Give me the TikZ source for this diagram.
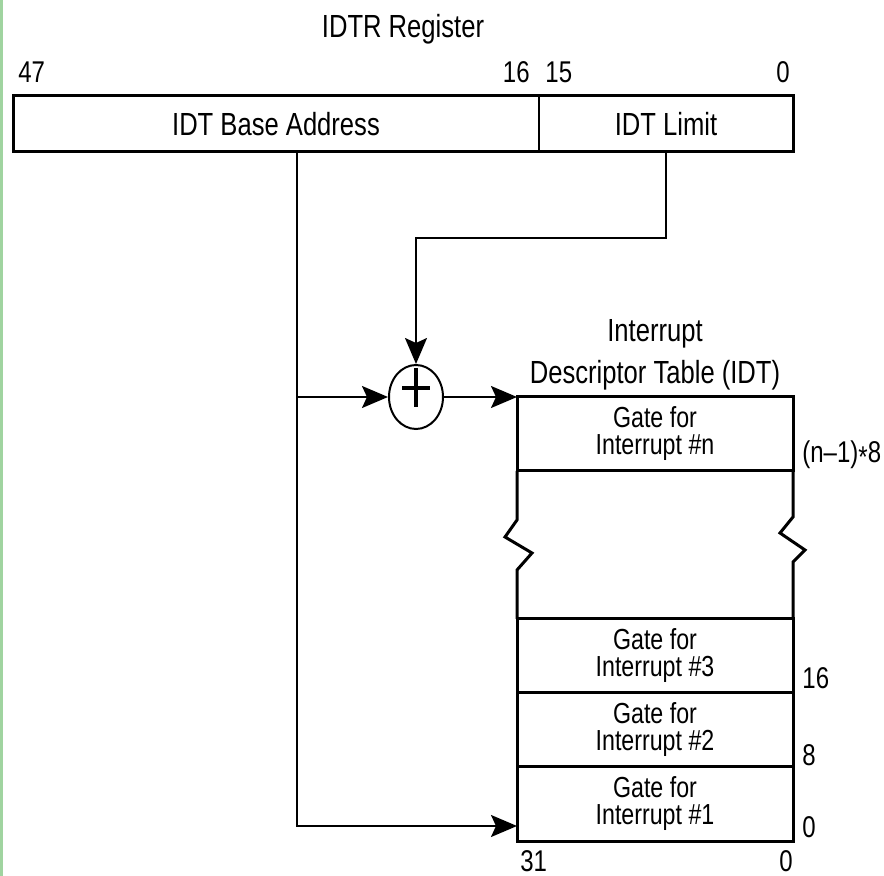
\documentclass[tikz,border=0pt]{standalone}
\usepackage{fontspec}
\setmainfont{Liberation Sans}[FakeStretch=0.8]
\usepackage{tikz}
\usetikzlibrary{positioning, shapes.geometric, arrows.meta, calc}
\definecolor{edgegreen}{RGB}{160,212,160}

\begin{document}
\begin{tikzpicture}[x=0.5pt, y=-0.5pt, >={Stealth[length=13pt, width=11pt, inset=2.5pt]},
        field/.style={draw, line width=0.75pt, minimum height=28pt, outer sep=0pt, font=\fontsize{16}{18}\selectfont},
        gatebox/.style={draw, line width=1.5pt, minimum width=138pt, minimum height=37pt, outer sep=0pt, align=center, font=\fontsize{14.5}{13.5}\selectfont},
        adder/.style={ellipse, draw, line width=1pt, minimum width=27pt, minimum height=32pt, inner sep=0pt},
        bitno/.style={inner sep=0pt, font=\fontsize{15}{16}\selectfont},
        heading/.style={inner sep=0pt, align=center, font=\fontsize{16}{21}\selectfont},
        wire/.style={line width=0.95pt}]
        \useasboundingbox (0,0) rectangle (884,876);
        \fill[edgegreen] (0,0) rectangle (2.5,876);

        \node[field, minimum width=263pt] (base) at (276,124) {IDT Base Address};
        \node[field, minimum width=127pt] (limit) [right=0pt of base] {IDT Limit};
        \draw[line width=1.5pt] (base.north west) rectangle (limit.south east);
        \node[heading, above=25.5pt] (regname) at ($(base.north west)!0.5!(limit.north east)$) {IDTR Register};

        \node[bitno, anchor=south west] (b47) at ($(base.north west)+(5,-13)$) {47};
        \node[bitno, anchor=south east] (b16) at ($(base.north east)+(-9,-13)$) {16};
        \node[bitno, anchor=south west] (b15) at ($(limit.north west)+(6,-13)$) {15};
        \node[bitno, anchor=south east] (b0) at ($(limit.north east)+(-3,-13)$) {0};

        \node[gatebox] (gate1) at (655,804) {Gate for\\Interrupt \#1};
        \node[gatebox] (gate2) [above=0pt of gate1] {Gate for\\Interrupt \#2};
        \node[gatebox] (gate3) [above=0pt of gate2] {Gate for\\Interrupt \#3};
        \node[gatebox] (gaten) [above=74pt of gate3] {Gate for\\Interrupt \#n};
        \node[heading] (idtname) [above=3pt of gaten] {Interrupt\\Descriptor Table (IDT)};

        \draw[line width=1.5pt] (gaten.south west) -- ++(0,49) -- ++(-12,17) -- ++(27,16) -- ++(-15,17) -- (gate3.north west);
        \draw[line width=1.5pt] (gaten.south east) -- ++(0,46) -- ++(-13,16) -- ++(25,17) -- ++(-12,12) -- (gate3.north east);

        \node[bitno, anchor=west] (offn) at ($(gaten.south east)+(9,-16)$) {(n–1)\raisebox{-0.3ex}{*}8};
        \node[bitno, anchor=west] (off3) at ($(gate3.south east)+(9,-15)$) {16};
        \node[bitno, anchor=west] (off2) at ($(gate2.south east)+(9,-12)$) {8};
        \node[bitno, anchor=west] (off1) at ($(gate1.south east)+(9,-14)$) {0};
        \node[bitno, anchor=north west] (b31) at ($(gate1.south west)+(3,9)$) {31};
        \node[bitno, anchor=north east] (b00) at ($(gate1.south east)+(0,9)$) {0};

        \node[adder] (sum) at (416,397) {};
        \draw[line width=2pt] ($(sum.center)+(-14,-9)$) -- ($(sum.center)+(14,-9)$)
                ($(sum.center)+(0,-29)$) -- ($(sum.center)+(0,10)$);

        \coordinate (tap) at (297,397);
        \coordinate (jog) at (416,238);
        \coordinate (entry) at ($(gate1.south west)+(0,-15)$);

        \draw[wire, ->] (tap |- base.south) -- (tap |- entry) -- (entry);
        \draw[wire, ->] (tap) -- (sum.west);
        \draw[wire, ->] (limit.south) -- (limit.south |- jog) -| (sum.north);
        \draw[wire, ->] (sum.east) -- (gaten.north west);
    \end{tikzpicture}
\end{document}
